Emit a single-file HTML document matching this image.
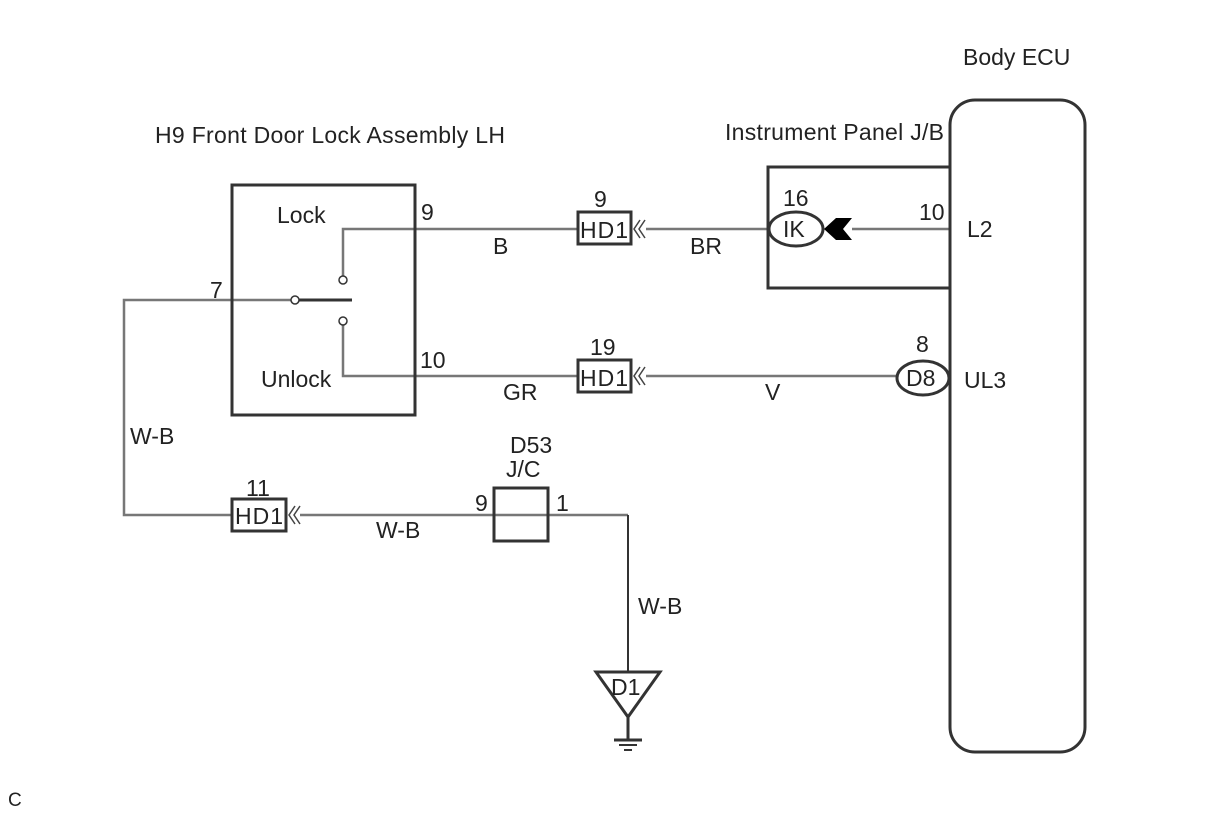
<!DOCTYPE html>
<html><head><meta charset="utf-8"><style>
html,body{margin:0;padding:0;background:#fff;}
svg{display:block;}
text{font-family:"Liberation Sans",sans-serif;font-size:23px;fill:#222;}
</style></head><body>
<svg width="1210" height="814" viewBox="0 0 1210 814" xmlns="http://www.w3.org/2000/svg">
<g fill="none" stroke-linecap="butt">
<g stroke="#777" stroke-width="2.5">
<polyline points="343,277 343,229 578,229"/>
<line x1="646" y1="229" x2="769" y2="229"/>
<line x1="852" y1="229" x2="950" y2="229"/>
<polyline points="343,324 343,376 578,376"/>
<line x1="646" y1="376" x2="898" y2="376"/>
<polyline points="292,300 124,300 124,515 232,515"/>
<polyline points="300,515 628,515"/>
</g>
<line x1="298" y1="300" x2="352" y2="300" stroke="#333" stroke-width="3"/>
<g stroke="#333" stroke-width="3">
<rect x="232" y="185" width="183" height="230"/>
<polyline points="950,167 768,167 768,288 950,288"/>
<rect x="950" y="100" width="135" height="652" rx="25" ry="25"/>
<rect x="494" y="488" width="54" height="53"/>
<rect x="578" y="212" width="53" height="32" fill="#fff"/>
<rect x="578" y="360" width="53" height="32" fill="#fff"/>
<rect x="232" y="499" width="54" height="32" fill="#fff"/>
<ellipse cx="796" cy="229" rx="27" ry="17" fill="#fff"/>
<ellipse cx="923" cy="378" rx="26" ry="17" fill="#fff"/>
<polygon points="596,672 660,672 628,717" fill="#fff"/>
<line x1="628" y1="717" x2="628" y2="740"/>
<line x1="614" y1="740" x2="642" y2="740"/>
<line x1="619" y1="745" x2="637" y2="745" stroke-width="2"/>
<line x1="624" y1="750" x2="632" y2="750" stroke-width="2"/>
</g>
<line x1="628" y1="515" x2="628" y2="672" stroke="#333" stroke-width="2"/>
<g stroke="#333" stroke-width="1.5" fill="#fff">
<circle cx="343" cy="280" r="4"/>
<circle cx="343" cy="321" r="4"/>
<circle cx="295" cy="300" r="4"/>
</g>
<g stroke="#444" stroke-width="1.5">
<polyline points="640,220 634,229 640,238"/><polyline points="645,220 639,229 645,238"/>
<polyline points="640,367 634,376 640,385"/><polyline points="645,367 639,376 645,385"/>
<polyline points="295,506 289,515 295,524"/><polyline points="300,506 294,515 300,524"/>
</g>
</g>
<polygon points="824,229 836,218 852,218 843,229 852,240 836,240" fill="#000"/>
<text x="963" y="65">Body ECU</text>
<text x="155" y="143" textLength="350">H9 Front Door Lock Assembly LH</text>
<text x="725" y="140" textLength="219">Instrument Panel J/B</text>
<text x="277" y="223">Lock</text>
<text x="261" y="387">Unlock</text>
<text x="421" y="220">9</text>
<text x="420" y="368">10</text>
<text x="210" y="298">7</text>
<text x="493" y="254">B</text>
<text x="690" y="254">BR</text>
<text x="503" y="400">GR</text>
<text x="765" y="400">V</text>
<text x="594" y="207">9</text>
<text x="590" y="355">19</text>
<text x="246" y="496">11</text>
<text x="580" y="238" textLength="48">HD1</text>
<text x="580" y="386" textLength="48">HD1</text>
<text x="235" y="524" textLength="48">HD1</text>
<text x="783" y="206">16</text>
<text x="783" y="237">IK</text>
<text x="919" y="220">10</text>
<text x="967" y="237">L2</text>
<text x="916" y="352">8</text>
<text x="906" y="386">D8</text>
<text x="964" y="388">UL3</text>
<text x="130" y="444">W-B</text>
<text x="376" y="538">W-B</text>
<text x="638" y="614">W-B</text>
<text x="510" y="453">D53</text>
<text x="506" y="477">J/C</text>
<text x="475" y="511">9</text>
<text x="556" y="511">1</text>
<text x="611" y="695">D1</text>
<text x="8" y="806" style="font-size:19px">C</text>
</svg>
</body></html>
